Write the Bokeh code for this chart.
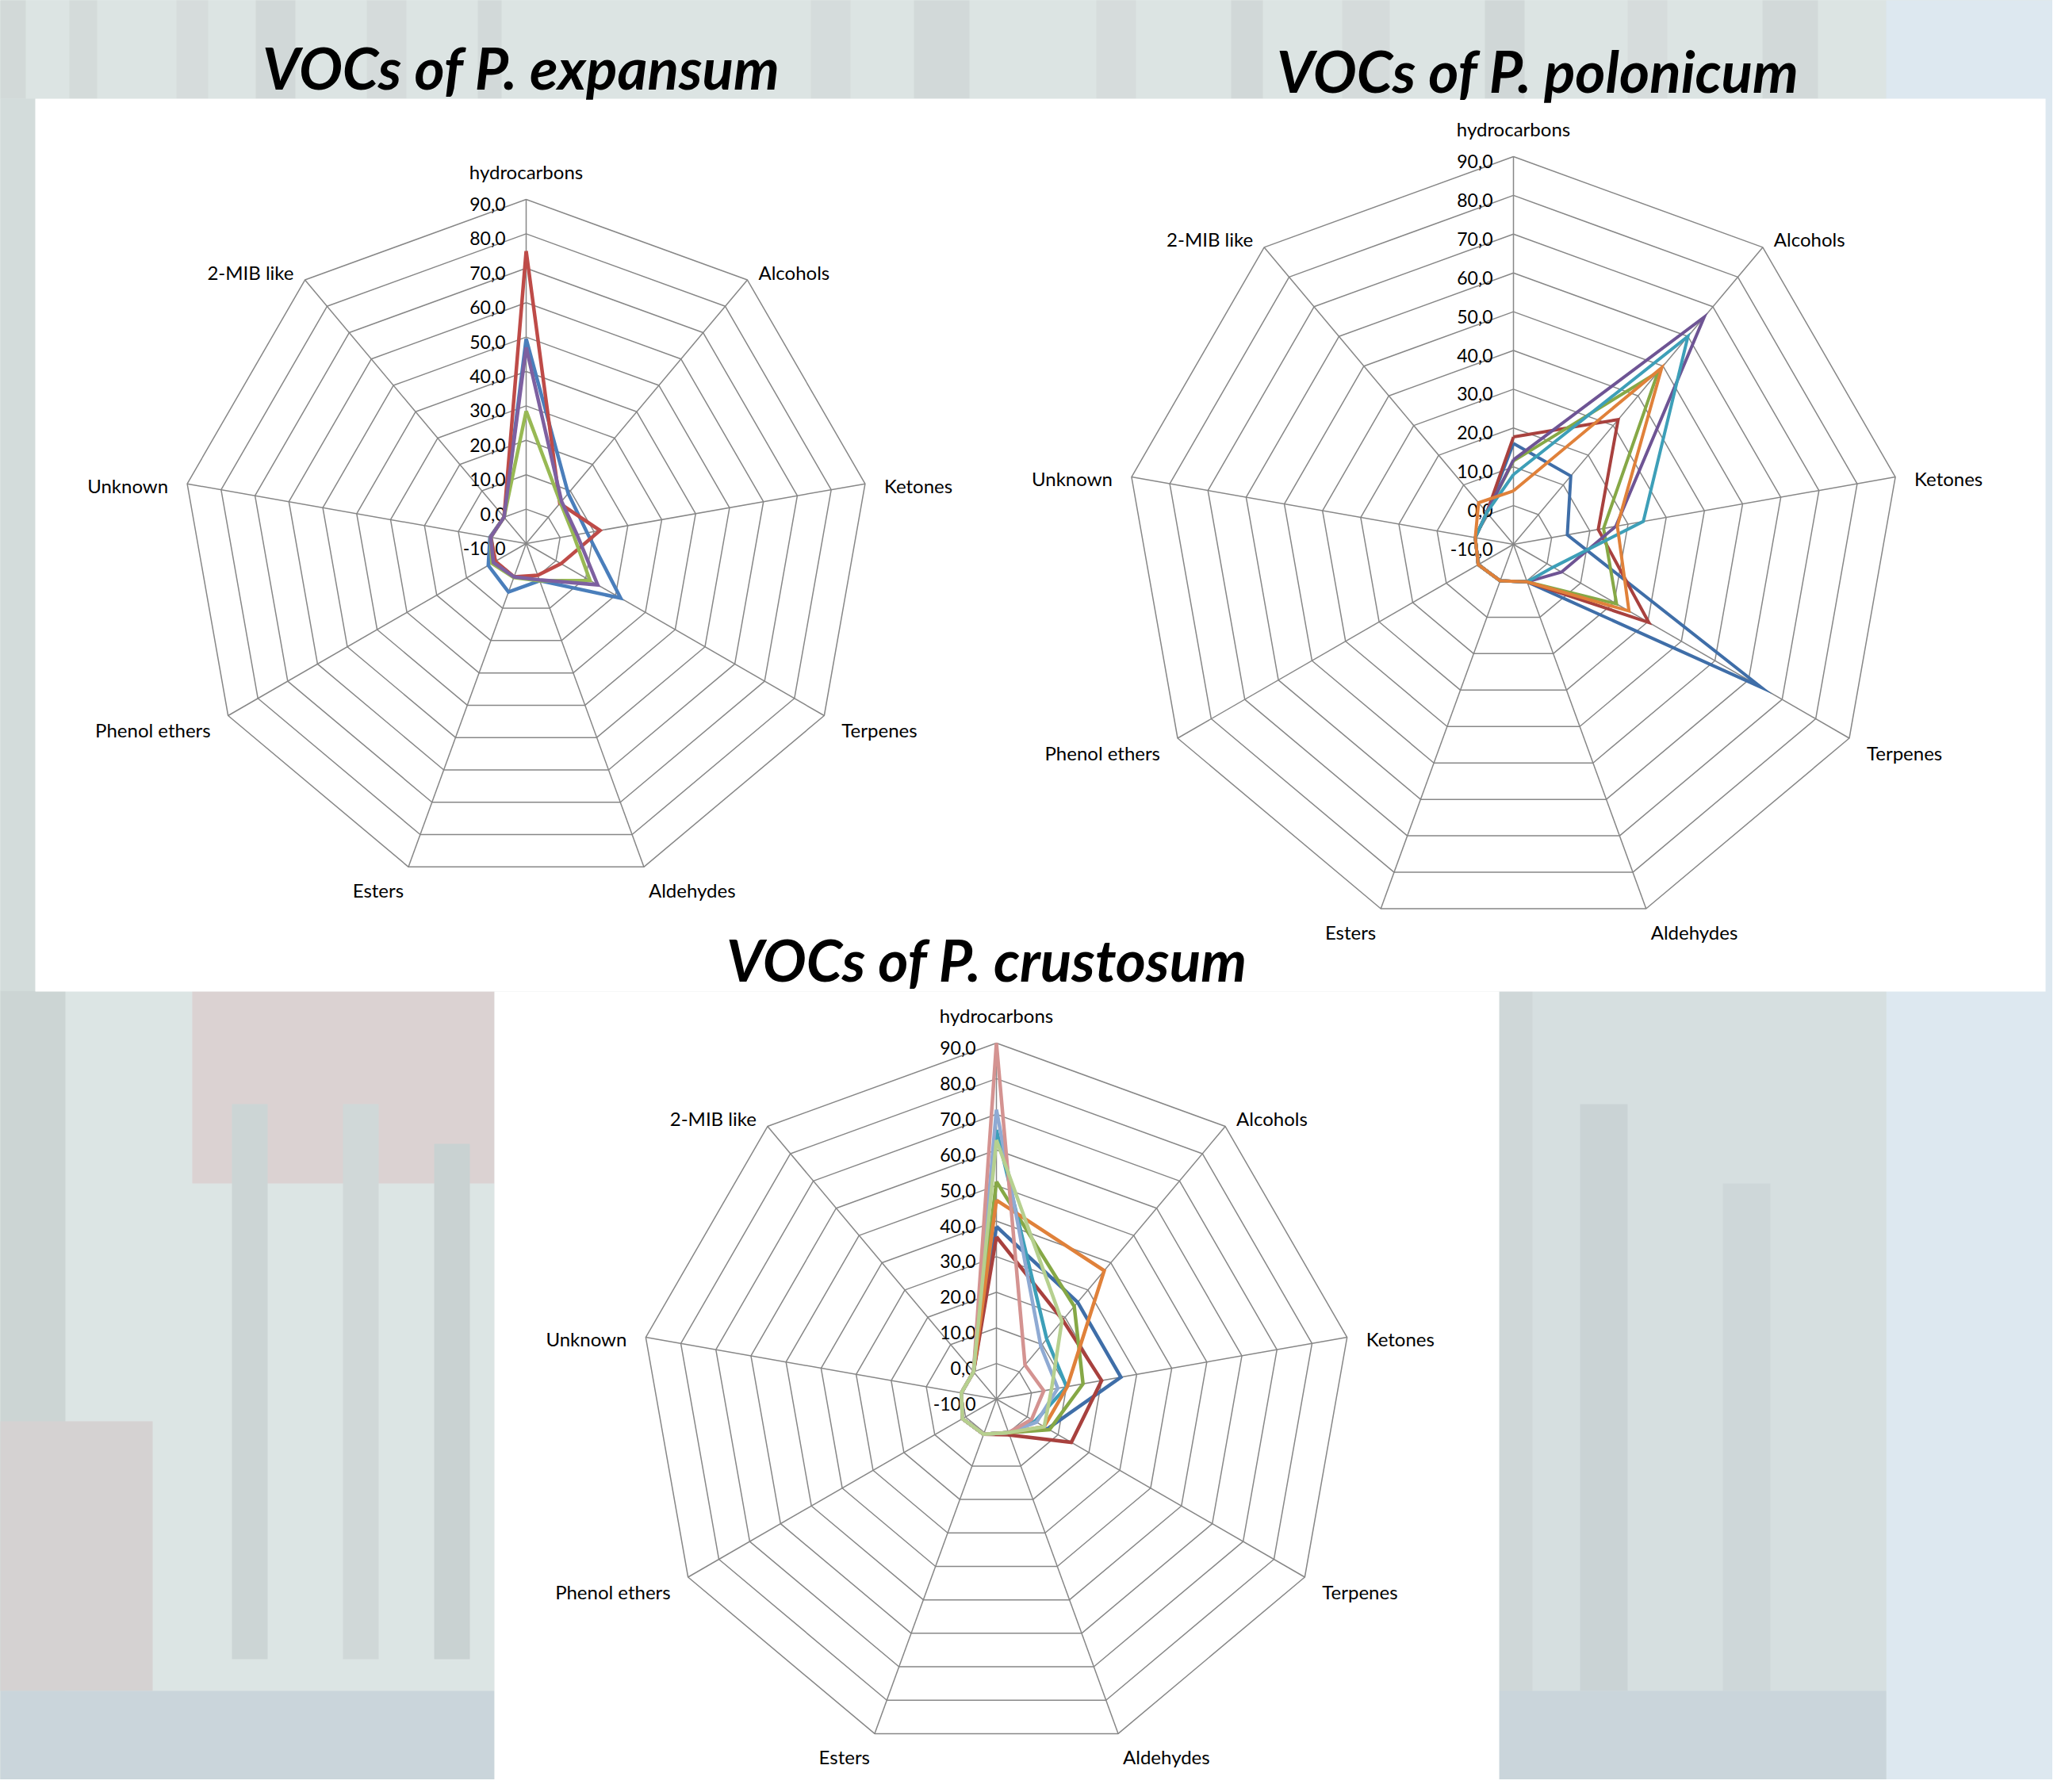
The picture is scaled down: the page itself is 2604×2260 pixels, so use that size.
import math
from bokeh.plotting import figure
from bokeh.models import Range1d
from bokeh.core.properties import value
from bokeh.embed import file_html
from bokeh.resources import INLINE

# ---------------- data ----------------
categories = ["hydrocarbons", "Alcohols", "Ketones", "Terpenes", "Aldehydes",
              "Esters", "Phenol ethers", "Unknown", "2-MIB like"]
tick_values = [-10, 0, 10, 20, 30, 40, 50, 60, 70, 80, 90]
tick_labels = ["-10,0", "0,0", "10,0", "20,0", "30,0", "40,0",
               "50,0", "60,0", "70,0", "80,0", "90,0"]

# VOCs of P. expansum
expansum_blue = [49.5, 9.0, 8.0, 21.7, 1.5, 5.0, 2.7, 0.7, 0.0]
expansum_red = [75.0, 5.2, 11.8, 1.7, -0.2, 0.3, 0.3, 0.5, 0.0]
expansum_green = [28.5, 5.5, 4.0, 11.4, 1.5, 0.5, 1.5, 0.5, 0.0]
expansum_purple = [47.0, 6.0, 5.0, 14.0, 1.2, 0.3, 1.0, 0.5, 0.0]

# VOCs of P. polonicum
polonicum_blue = [16.0, 13.0, 4.1, 63.8, 0.3, 0.0, 0.5, 0.0, 0.7]
polonicum_red = [17.7, 32.0, 12.2, 30.3, 0.3, 0.0, 0.5, 0.0, 0.7]
polonicum_green = [11.5, 48.0, 13.6, 20.7, 0.3, 0.0, 0.5, 0.0, 0.7]
polonicum_purple = [11.8, 66.5, 16.8, 4.3, 0.3, 0.0, 0.5, 0.0, 0.7]
polonicum_teal = [8.0, 60.0, 24.0, 1.8, 0.3, 0.0, 0.5, 0.0, 0.7]
polonicum_orange = [3.8, 49.5, 17.2, 24.4, 0.3, 0.0, 0.5, 0.0, 4.0]

# VOCs of P. crustosum
crustosum_blue = [38.5, 25.5, 25.5, 6.6, 0.0, 0.5, 1.0, 0.0, 0.0]
crustosum_red = [35.6, 19.0, 20.0, 14.3, 0.7, 0.5, 1.0, 0.0, 0.0]
crustosum_green = [51.1, 24.0, 14.7, 7.2, 0.0, 0.5, 1.0, 0.0, 0.0]
crustosum_teal = [65.6, 12.0, 10.0, 2.5, 0.0, 0.5, 1.0, 0.0, 0.0]
crustosum_orange = [45.9, 37.1, 10.2, 5.5, 0.0, 0.5, 1.0, 0.0, 0.0]
crustosum_lightblue = [71.3, 9.4, 7.5, 3.0, 0.0, 0.5, 1.0, 0.0, 0.0]
crustosum_pink = [90.0, 2.5, 3.5, 1.4, 0.0, 0.5, 1.0, 0.0, 0.0]
crustosum_lightgreen = [62.8, 18.6, 5.7, 5.5, 0.0, 0.5, 1.0, 0.0, 0.0]

titles = ["VOCs of P. expansum", "VOCs of P. polonicum", "VOCs of P. crustosum"]

# ---------------- layout / style ----------------
W, H = 2588, 2244
FONT = value("Lato")
GRID = "#878787"

p = figure(width=W, height=H, x_range=Range1d(8, 8 + W), y_range=Range1d(8 + H, 8),
           output_backend="svg", toolbar_location=None, min_border=0)
p.axis.visible = False
p.grid.visible = False
p.outline_line_color = None
p.background_fill_color = "#d8e0df"
p.border_fill_color = "#d8e0df"

# blurred photographic backdrop (decoration only)
bg_blocks = [
    (0, 2604, 0, 2260, "#d9e1e0"),
    (0, 2386, 0, 132, "#dce4e3"),
    (0, 40, 0, 132, "#d2d9d8"), (95, 130, 0, 132, "#d4dbda"),
    (230, 270, 0, 132, "#d6dcdc"), (330, 380, 0, 132, "#d1d8d8"),
    (470, 520, 0, 132, "#d5dbdb"), (610, 640, 0, 132, "#d2d9d9"),
    (1030, 1080, 0, 132, "#d5dcdc"), (1160, 1230, 0, 132, "#d2d9d9"),
    (1390, 1440, 0, 132, "#d6dcdc"), (1560, 1600, 0, 132, "#d1d8d8"),
    (1700, 1760, 0, 132, "#d5dbdb"), (1880, 1930, 0, 132, "#d0d7d7"),
    (2060, 2110, 0, 132, "#d6dcdc"), (2230, 2300, 0, 132, "#d2d9d9"),
    (2386, 2604, 0, 2260, "#dde8f0"),
    (0, 52, 132, 1258, "#d3dcdb"),
    (0, 631, 1257, 2260, "#dce5e4"), (250, 631, 1257, 1500, "#dbd2d2"),
    (0, 90, 1257, 2140, "#ccd5d4"), (300, 345, 1400, 2100, "#ccd5d5"),
    (440, 485, 1400, 2100, "#d0d8d8"), (555, 600, 1450, 2100, "#c9d2d2"),
    (0, 200, 1800, 2140, "#d5d2d2"), (0, 631, 2140, 2260, "#cad5db"),
    (1898, 2386, 1257, 2260, "#d6dfe0"), (1898, 1940, 1257, 2260, "#cfd7d8"),
    (2000, 2060, 1400, 2140, "#cad3d5"), (2180, 2240, 1500, 2140, "#ced7d9"),
    (1898, 2386, 2140, 2260, "#cad5db"),
    (52, 2587, 132, 1258, "#ffffff"), (631, 1898, 1258, 2260, "#ffffff"),
]
p.quad(left=[b[0] for b in bg_blocks], right=[b[1] for b in bg_blocks],
       top=[b[2] for b in bg_blocks], bottom=[b[3] for b in bg_blocks],
       fill_color=[b[4] for b in bg_blocks], line_color=None)

charts = [
    dict(title=titles[0], cx=671, cy=693, unit=4.34, lw=4.5, tx=665, ty=92,
         series=[(expansum_blue, "#4a7ebb"), (expansum_red, "#be4b48"),
                 (expansum_green, "#98b954"), (expansum_purple, "#7d60a0")]),
    dict(title=titles[1], cx=1916, cy=694, unit=4.89, lw=4.0, tx=1947, ty=96,
         series=[(polonicum_blue, "#3f6ea8"), (polonicum_red, "#a8413e"),
                 (polonicum_green, "#86a846"), (polonicum_purple, "#6e5494"),
                 (polonicum_teal, "#3d9fb8"), (polonicum_orange, "#e0813a")]),
    dict(title=titles[2], cx=1264, cy=1772, unit=4.49, lw=4.5, tx=1252, ty=1217,
         series=[(crustosum_blue, "#3f6ea8"), (crustosum_red, "#a8413e"),
                 (crustosum_green, "#86a846"), (crustosum_teal, "#3d9fb8"),
                 (crustosum_orange, "#e0813a"), (crustosum_lightblue, "#8faad3"),
                 (crustosum_pink, "#d49391"), (crustosum_lightgreen, "#b6d08f")]),
]

n = len(categories)
angles = [2 * math.pi * i / n for i in range(n)]
label_off = [(0, -35, "center"), (14, -10, "left"), (24, 2, "left"),
             (22, 18, "left"), (6, 29, "left"), (-6, 29, "right"),
             (-22, 18, "right"), (-24, 2, "right"), (-14, -10, "right")]


def polar(cx, cy, unit, v, a):
    r = (v - tick_values[0]) * unit
    return cx + r * math.sin(a), cy - r * math.cos(a)


for c in charts:
    cx, cy, u = c["cx"], c["cy"], c["unit"]
    # grid rings
    xs_r, ys_r = [], []
    for tv in tick_values[1:]:
        pts = [polar(cx, cy, u, tv, a) for a in angles]
        pts.append(pts[0])
        xs_r.append([q[0] for q in pts])
        ys_r.append([q[1] for q in pts])
    p.multi_line(xs_r, ys_r, line_color=GRID, line_width=1.5)
    # spokes
    outer = [polar(cx, cy, u, tick_values[-1], a) for a in angles]
    p.segment(x0=[cx] * n, y0=[cy] * n, x1=[q[0] for q in outer], y1=[q[1] for q in outer],
              line_color=GRID, line_width=1.5)
    # tick labels
    p.text(x=[cx - 26] * len(tick_values),
           y=[polar(cx, cy, u, tv, 0)[1] + 6 for tv in tick_values],
           text=tick_labels, text_font=FONT, text_font_size="23px",
           text_align="right", text_baseline="middle", text_color="#000000")
    # category labels
    for i, cat in enumerate(categories):
        dx, dy, al = label_off[i]
        p.text(x=[outer[i][0] + dx], y=[outer[i][1] + dy], text=[cat], text_font=FONT,
               text_font_size="24px", text_align=al, text_baseline="middle",
               text_color="#000000")
    # series
    for vals, col in c["series"]:
        pts = [polar(cx, cy, u, v, a) for v, a in zip(vals, angles)]
        pts.append(pts[0])
        p.line([q[0] for q in pts], [q[1] for q in pts], line_color=col,
               line_width=c["lw"], line_join="miter")
    # title
    p.text(x=[c["tx"]], y=[c["ty"]], text=[c["title"]], text_font=FONT,
           text_font_size="73px", text_font_style="bold italic", text_align="center",
           text_baseline="alphabetic", text_color="#000000")

open("out.html", "w").write(file_html(p, INLINE))
